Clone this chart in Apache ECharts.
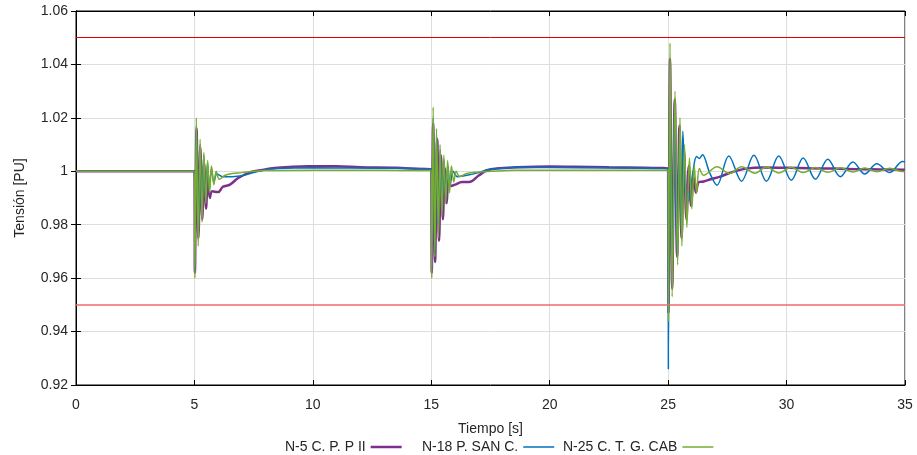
<!DOCTYPE html>
<html>
<head>
<meta charset="utf-8">
<script src="https://cdn.jsdelivr.net/npm/echarts@6/dist/echarts.min.js"></script>
<style>html,body{margin:0;padding:0;background:#fff}#c{width:917px;height:455px}</style>
</head>
<body>
<div id="c"></div>
<script>
// ---- data (time [s], voltage [PU]) ----
const seriesNames = ['N-5 C. P. P II', 'N-18 P. SAN C.', 'N-25 C. T. G. CAB'];
const xTicks = [0, 5, 10, 15, 20, 25, 30, 35];
const yTicks = [0.92, 0.94, 0.96, 0.98, 1.0, 1.02, 1.04, 1.06];
const upperLimit = 1.05;
const lowerLimit = 0.95;

const n5Data = [
  [0,1.0],[5.0,1.0],[5.02,0.962],[5.09,1.016],[5.17,0.975],[5.25,1.009],[5.33,0.982],[5.41,1.003],[5.49,0.986],[5.57,0.998],[5.65,0.990],[5.75,0.9925],[6.0,0.9922],[6.2,0.9942],[6.5,0.9950],[6.85,0.9975],[7.4,0.9998],[7.85,1.0005],[8.4,1.0012],[9.0,1.0016],[9.8,1.0019],[11.0,1.0019],[12.0,1.0015],[13.5,1.0013],[14.5,1.0009],[15.0,1.0008],
  [15.02,0.962],[15.08,1.018],[15.16,0.966],[15.25,1.012],[15.33,0.974],[15.41,1.006],[15.49,0.982],[15.57,1.001],[15.65,0.988],[15.73,0.997],[15.85,0.9945],[16.0,0.9950],[16.3,0.9960],[16.6,0.9960],[17.0,0.9984],[17.35,1.0004],[17.9,1.0011],[18.6,1.0015],[20.0,1.0018],[21.0,1.0017],[22.5,1.0015],[24.0,1.0013],[25.0,1.0010],
  [25.01,0.947],[25.08,1.042],[25.17,0.956],[25.28,1.027],[25.38,0.968],[25.48,1.017],[25.57,0.975],[25.67,1.008],[25.77,0.982],[25.87,1.002],[25.97,0.987],[26.07,0.998],[26.17,0.992],[26.3,0.996],[26.5,0.9962],[26.8,0.997],[27.2,0.998],[27.7,0.9997],[28.3,1.0010],[29.0,1.0014],[30.0,1.0013],[31.0,1.0011],[32.0,1.0010],[33.0,1.0008],[34.0,1.0007],[35.0,1.0006]
];

const n18Data = [
  [0,1.0],[5.0,1.0],[5.02,0.963],[5.08,1.017],[5.16,0.975],[5.24,1.010],[5.31,0.983],[5.39,1.006],[5.47,0.989],[5.55,1.003],[5.63,0.993],[5.72,1.001],[5.82,0.996],[5.95,0.999],[6.2,0.998],[6.6,0.998],[7.0,0.9983],[7.5,0.9995],[7.9,1.0004],[8.5,1.0010],[10.0,1.0013],[12.0,1.0012],[14.0,1.0011],[15.0,1.0010],
  [15.02,0.964],[15.08,1.020],[15.15,0.970],[15.23,1.013],[15.30,0.977],[15.38,1.008],[15.46,0.985],[15.54,1.004],[15.62,0.990],[15.70,1.002],[15.80,0.995],[15.92,1.000],[16.1,0.998],[16.5,0.9985],[17.0,0.9995],[17.4,1.0006],[18.0,1.0011],[18.7,1.0015],[20.0,1.0014],[22.0,1.0013],[24.0,1.0012],[25.0,1.0010],
  [25.01,0.926],[25.07,1.038],[25.16,0.958],[25.27,1.024],[25.37,0.970],[25.47,1.010],[25.55,0.978],[25.62,1.015],[25.72,0.992],[25.83,0.9885],[25.93,0.992],[26.05,1.000],[26.2,1.0055],[26.32,1.0048],[26.45,1.0062],[26.75,0.9995],[27.06,0.9948],[27.56,1.0057],[28.1,0.9963],[28.62,1.0060],[29.15,0.9963],[29.67,1.0057],[30.2,0.9966],[30.7,1.0050],[31.22,0.9970],[31.74,1.0045],[32.27,0.9980],[32.8,1.0035],[33.3,0.9990],[33.81,1.0028],[34.35,0.9995],[34.9,1.0037],[35.0,1.0036]
];

const n25Data = [
  [0,1.0],[5.0,1.0],[5.02,0.960],[5.08,1.020],[5.16,0.972],[5.24,1.012],[5.32,0.981],[5.40,1.007],[5.48,0.988],[5.56,1.004],[5.64,0.992],[5.72,1.002],[5.82,0.995],[5.92,1.000],[6.05,0.997],[6.3,0.9985],[6.6,0.9992],[7.0,0.9995],[7.5,1.0],[8.0,1.0003],[10.0,1.0004],[12.0,1.0004],[14.0,1.0003],[15.0,1.0003],
  [15.02,0.960],[15.08,1.024],[15.15,0.968],[15.22,1.016],[15.30,0.975],[15.37,1.010],[15.45,0.983],[15.53,1.006],[15.61,0.988],[15.69,1.004],[15.77,0.992],[15.85,1.002],[15.95,0.996],[16.05,1.000],[16.2,0.998],[16.5,0.9992],[17.0,0.9997],[17.5,1.0],[18.5,1.0004],[25.0,1.0004],
  [25.01,0.944],[25.08,1.048],[25.17,0.953],[25.29,1.030],[25.40,0.965],[25.50,1.020],[25.58,0.972],[25.69,1.010],[25.79,0.979],[25.90,1.005],[26.0,0.986],[26.1,1.002],[26.2,0.992],[26.32,1.001],[26.5,0.9985],[27.06,1.0017],[27.6,0.9992],[28.1,1.0017],[28.66,0.9993],[29.15,1.0016],[29.67,0.9994],[30.2,1.0015],[30.7,0.9995],[31.22,1.0014],[31.74,0.9996],[32.27,1.0013],[32.8,0.9997],[33.3,1.0012],[33.81,0.9998],[34.35,1.0011],[34.9,0.9999],[35.0,0.9999]
];

const colors = ['#7E2F8E', '#0072BD', '#77AC30'];
const widths = [2.5, 1.5, 1.5];
const legendLeft = [285, 422, 563];

const FONT = '"Liberation Sans", Arial, sans-serif';
const txt = '#262626';

const chart = echarts.init(document.getElementById('c'), null, {renderer: 'canvas'});

const yMin = yTicks[0], yMax = yTicks[yTicks.length - 1], yStep = 0.02;
const xMin = xTicks[0], xMax = xTicks[xTicks.length - 1], xStep = 5;

function yAxisCfg(pos, showLabel) {
  return {
    type: 'value', position: pos, min: yMin, max: yMax, interval: yStep,
    name: showLabel ? 'Tensión [PU]' : '', nameLocation: 'middle', nameGap: 49,
    nameTextStyle: {fontFamily: FONT, fontSize: 14, color: txt},
    axisLine: {show: true, lineStyle: {color: '#000', width: 1}},
    axisTick: {show: true, inside: true, length: 5, lineStyle: {color: '#000'}},
    axisLabel: {show: showLabel, margin: 8, fontFamily: FONT, fontSize: 14, color: txt,
      formatter: v => String(+v.toFixed(2))},
    splitLine: {show: showLabel, lineStyle: {color: '#dedede', width: 1}}
  };
}
function xAxisCfg(pos, showLabel) {
  return {
    type: 'value', position: pos, min: xMin, max: xMax, interval: xStep,
    name: showLabel ? 'Tiempo [s]' : '', nameLocation: 'middle', nameGap: 37,
    nameTextStyle: {fontFamily: FONT, fontSize: 14, color: txt},
    axisLine: {show: true, onZero: false, lineStyle: {color: '#000', width: 1}},
    axisTick: {show: true, inside: true, length: 5, lineStyle: {color: '#000'}},
    axisLabel: {show: showLabel, margin: 13, fontFamily: FONT, fontSize: 14, color: txt},
    splitLine: {show: showLabel, lineStyle: {color: '#dedede', width: 1}}
  };
}

const datasets = [n5Data, n18Data, n25Data];
const series = seriesNames.map((name, i) => ({
  name, type: 'line', data: datasets[i], xAxisIndex: 0, yAxisIndex: 0,
  symbol: 'none', smooth: 0.35, animation: false,
  lineStyle: {color: colors[i], width: widths[i]},
  itemStyle: {color: colors[i]},
  z: 3 + i
}));
series[0].markLine = {
  silent: true, symbol: ['none', 'none'], animation: false, label: {show: false},
  data: [
    {yAxis: upperLimit, lineStyle: {color: '#e00000', width: 1, type: 'solid'}},
    {yAxis: lowerLimit, lineStyle: {color: '#f26b6b', width: 1.5, type: 'solid'}}
  ]
};

chart.setOption({
  animation: false,
  backgroundColor: '#fff',
  grid: {left: 76, right: 12, top: 11, bottom: 70, show: true, borderColor: '#000', borderWidth: 1, backgroundColor: '#fff'},
  xAxis: [xAxisCfg('bottom', true), xAxisCfg('top', false)],
  yAxis: [yAxisCfg('left', true), yAxisCfg('right', false)],
  legend: seriesNames.map((n, i) => ({
    data: [{name: n, icon: 'rect'}], left: legendLeft[i], top: 440, align: 'right', orient: 'horizontal',
    itemWidth: 31, itemHeight: i === 0 ? 2.5 : 1.5, itemGap: 0, padding: 0, selectedMode: false,
    textStyle: {fontFamily: FONT, fontSize: 14, color: txt}
  })),
  series
});
</script>
</body>
</html>
